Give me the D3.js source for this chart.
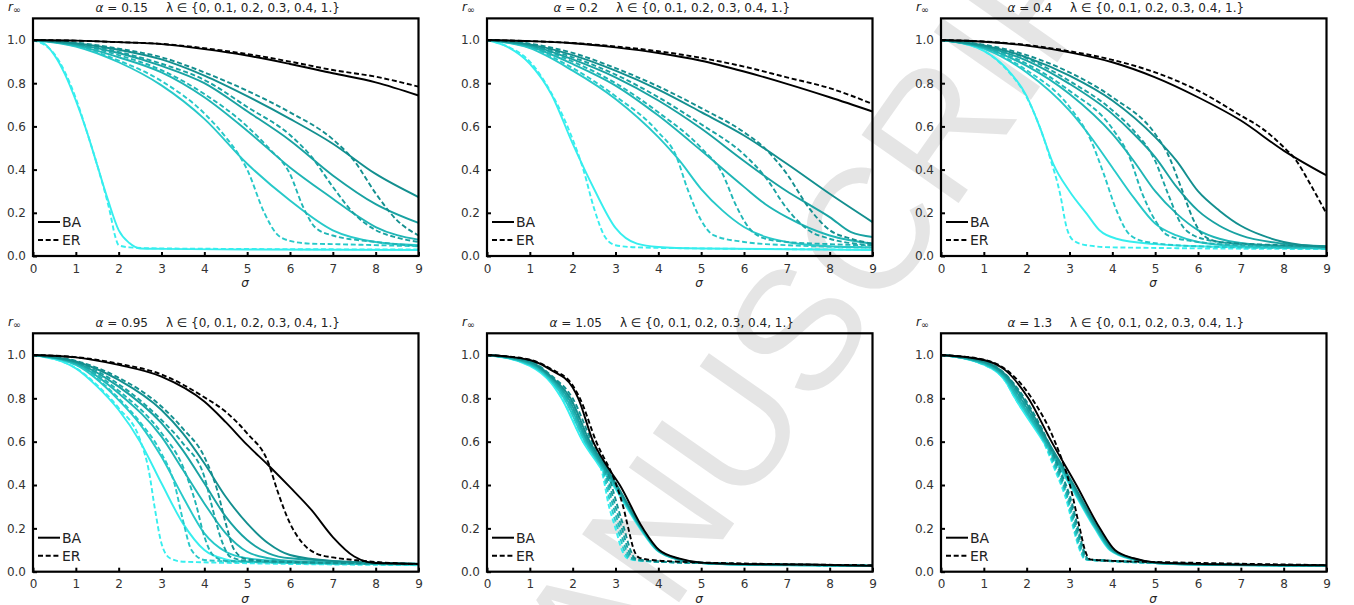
<!DOCTYPE html>
<html>
<head>
<meta charset="utf-8">
<title>r_inf vs sigma</title>
<style>
	body { margin: 0; background: #fff; }
	text { font-family: "DejaVu Sans", sans-serif; }
</style>
</head>
<body>
<svg id="chart"></svg>
<script src="https://cdn.jsdelivr.net/npm/d3@7"></script>
<script>
// lambda values and their colours (black -> cyan)
var lambdas = [0, 0.1, 0.2, 0.3, 0.4, 1];
var lambdaColors = ["#000000", "#138f8f", "#19a2a2", "#1fb5b5", "#27c9c9", "#36eeee"];
var sigmaTicks = [0, 1, 2, 3, 4, 5, 6, 7, 8, 9];
var rTicks = [0, 0.2, 0.4, 0.6, 0.8, 1.0];
var alphas = ["0.15", "0.2", "0.4", "0.95", "1.05", "1.3"];

// each curve: [sigma, r_inf] points, one curve per lambda (same order as lambdas)
var ba015 = [
	[[0,1],[1,0.997],[2,0.99],[3,0.981],[4,0.958],[5,0.928],[6,0.889],[7,0.846],[8,0.804],[9,0.743]],
	[[0,1],[1,0.985],[2,0.955],[3,0.91],[4,0.835],[5,0.74],[6,0.635],[7,0.52],[8,0.38],[9,0.273]],
	[[0,1],[1,0.98],[2,0.94],[3,0.88],[4,0.8],[5,0.67],[6,0.535],[7,0.373],[8,0.24],[9,0.153]],
	[[0,1],[1,0.975],[2,0.92],[3,0.85],[4,0.735],[5,0.58],[6,0.41],[7,0.265],[7.5,0.195],[8,0.134],[9,0.075]],
	[[0,1],[1,0.97],[2,0.897],[3,0.79],[4,0.635],[5,0.427],[6,0.257],[7,0.119],[8,0.065],[9,0.05]],
	[[0,1],[0.25,0.985],[0.5,0.93],[0.75,0.84],[1,0.72],[1.25,0.58],[1.5,0.42],[1.75,0.26],[2,0.12],[2.25,0.06],[2.5,0.035],[3,0.033],[5,0.03],[9,0.028]]
];
var er015 = [
	[[0,1],[1,0.997],[2,0.99],[3,0.982],[4,0.962],[5,0.935],[6,0.9],[7,0.861],[8,0.83],[9,0.784]],
	[[0,1],[1,0.988],[2,0.96],[3,0.92],[4,0.85],[5,0.765],[6,0.665],[7,0.54],[7.5,0.44],[8,0.29],[8.5,0.165],[9,0.095]],
	[[0,1],[1,0.983],[2,0.945],[3,0.89],[4,0.815],[5,0.69],[6,0.56],[6.5,0.46],[7,0.32],[7.5,0.195],[8,0.12],[8.5,0.085],[9,0.065]],
	[[0,1],[1,0.978],[2,0.93],[3,0.86],[4,0.75],[5,0.6],[5.5,0.5],[6,0.38],[6.3,0.23],[6.6,0.13],[7,0.095],[8,0.065],[9,0.046]],
	[[0,1],[1,0.972],[2,0.905],[3,0.81],[4,0.66],[4.5,0.55],[4.8,0.47],[5,0.4],[5.4,0.2],[5.7,0.1],[6,0.07],[6.5,0.057],[7,0.055],[9,0.045]],
	[[0,1],[0.5,0.935],[1,0.73],[1.25,0.58],[1.5,0.42],[1.8,0.2],[1.92,0.09],[2,0.05],[2.25,0.04],[3,0.035],[9,0.03]]
];

var ba02 = [
	[[0,1],[1,0.995],[2,0.985],[3,0.966],[4,0.94],[5,0.904],[6,0.854],[7,0.797],[8,0.735],[9,0.669]],
	[[0,1],[1,0.98],[2,0.93],[3,0.858],[4,0.77],[5,0.666],[6,0.558],[7,0.427],[8,0.288],[9,0.157]],
	[[0,1],[1,0.975],[2,0.91],[3,0.827],[4,0.72],[5,0.59],[6,0.44],[7,0.3],[7.5,0.24],[8,0.18],[8.5,0.11],[9,0.088]],
	[[0,1],[1,0.97],[2,0.889],[3,0.789],[4,0.65],[5,0.488],[6,0.32],[6.5,0.24],[7,0.18],[8,0.095],[9,0.057]],
	[[0,1],[1,0.962],[2,0.858],[3,0.727],[4,0.55],[4.5,0.44],[5,0.31],[5.5,0.21],[6,0.134],[7,0.065],[8,0.045],[9,0.039]],
	[[0,1],[0.5,0.966],[1,0.89],[1.5,0.75],[2,0.52],[2.5,0.31],[3,0.13],[3.5,0.057],[4,0.042],[5,0.035],[9,0.028]]
];
var er02 = [
	[[0,1],[1,0.995],[2,0.986],[3,0.97],[4,0.948],[5,0.917],[6,0.877],[7,0.827],[8,0.777],[9,0.704]],
	[[0,1],[1,0.983],[2,0.94],[3,0.87],[4,0.785],[5,0.685],[6,0.573],[6.5,0.496],[7,0.38],[7.5,0.227],[8,0.12],[8.5,0.08],[9,0.057]],
	[[0,1],[1,0.978],[2,0.92],[3,0.84],[4,0.735],[5,0.61],[6,0.47],[6.5,0.365],[7,0.22],[7.5,0.12],[8,0.08],[9,0.05]],
	[[0,1],[1,0.972],[2,0.9],[3,0.8],[4,0.665],[5,0.5],[5.5,0.38],[5.8,0.24],[6.1,0.134],[6.5,0.08],[7,0.065],[8,0.055],[9,0.048]],
	[[0,1],[1,0.965],[2,0.87],[3,0.74],[4,0.573],[4.4,0.47],[4.7,0.3],[5,0.165],[5.3,0.095],[6,0.065],[7,0.05],[9,0.04]],
	[[0,1],[0.5,0.968],[1,0.9],[1.5,0.755],[2,0.54],[2.25,0.4],[2.5,0.22],[2.75,0.09],[3,0.05],[3.5,0.04],[5,0.035],[9,0.03]]
];

var ba04 = [
	[[0,1],[1,0.992],[2,0.974],[3,0.943],[4,0.897],[5,0.827],[6,0.735],[7,0.627],[8,0.488],[9,0.373]],
	[[0,1],[1,0.975],[2,0.92],[3,0.835],[4,0.72],[5,0.55],[5.5,0.44],[6,0.3],[6.5,0.21],[7,0.14],[7.5,0.095],[8,0.065],[9,0.042]],
	[[0,1],[1,0.97],[2,0.905],[3,0.797],[4,0.658],[4.5,0.565],[5,0.458],[5.5,0.32],[6,0.21],[6.5,0.14],[7,0.095],[8,0.057],[9,0.045]],
	[[0,1],[1,0.965],[2,0.88],[3,0.75],[4,0.565],[4.5,0.44],[5,0.3],[5.5,0.196],[6,0.12],[6.5,0.08],[7,0.06],[8,0.045],[9,0.04]],
	[[0,1],[1,0.96],[2,0.85],[3,0.673],[3.5,0.55],[4,0.41],[4.5,0.27],[5,0.15],[5.5,0.095],[6,0.065],[7,0.045],[9,0.035]],
	[[0,1],[0.5,0.985],[1,0.95],[1.5,0.874],[2,0.74],[2.3,0.6],[2.62,0.427],[3,0.3],[3.4,0.196],[3.7,0.119],[4.1,0.08],[5,0.055],[6,0.045],[9,0.035]]
];
var er04 = [
	[[0,1],[1,0.993],[2,0.977],[3,0.948],[4,0.908],[5,0.85],[6,0.766],[7,0.65],[7.5,0.59],[8,0.504],[8.3,0.44],[8.6,0.34],[9,0.196]],
	[[0,1],[1,0.978],[2,0.93],[3,0.85],[4,0.735],[5,0.565],[5.3,0.47],[5.6,0.32],[5.9,0.165],[6.1,0.1],[6.5,0.065],[8,0.05],[9,0.045]],
	[[0,1],[1,0.973],[2,0.915],[3,0.81],[4,0.675],[4.5,0.58],[5,0.44],[5.3,0.288],[5.6,0.15],[5.9,0.095],[6.5,0.065],[7,0.055],[9,0.045]],
	[[0,1],[1,0.968],[2,0.89],[3,0.765],[4,0.59],[4.4,0.458],[4.7,0.288],[5,0.165],[5.3,0.095],[6,0.065],[7,0.05],[9,0.04]],
	[[0,1],[1,0.962],[2,0.86],[3,0.69],[3.5,0.535],[3.8,0.38],[4.1,0.21],[4.4,0.1],[4.8,0.065],[6,0.045],[9,0.035]],
	[[0,1],[0.5,0.985],[1,0.95],[1.5,0.87],[2,0.735],[2.3,0.6],[2.54,0.458],[2.78,0.288],[2.93,0.134],[3.09,0.072],[3.4,0.05],[4,0.04],[9,0.032]]
];

var ba095 = [
	[[0,1],[1,0.989],[2,0.954],[3,0.9],[4,0.785],[4.5,0.69],[5,0.585],[5.5,0.49],[6,0.39],[6.5,0.285],[7,0.16],[7.5,0.07],[7.8,0.045],[8,0.04],[9,0.036]],
	[[0,1],[1,0.97],[2,0.885],[3,0.746],[3.5,0.638],[4,0.5],[4.5,0.346],[5,0.223],[5.5,0.13],[6,0.077],[7,0.05],[9,0.037]],
	[[0,1],[1,0.965],[2,0.854],[3,0.685],[3.5,0.56],[4,0.408],[4.5,0.254],[5,0.146],[5.5,0.085],[6,0.062],[9,0.035]],
	[[0,1],[1,0.96],[2,0.823],[3,0.623],[3.5,0.47],[4,0.315],[4.5,0.177],[5,0.092],[5.5,0.062],[6,0.05],[9,0.035]],
	[[0,1],[1,0.954],[2,0.792],[2.5,0.68],[3,0.53],[3.5,0.346],[4,0.177],[4.5,0.092],[5,0.062],[6,0.045],[9,0.033]],
	[[0,1],[1,0.938],[1.5,0.854],[2,0.746],[2.5,0.6],[3,0.408],[3.5,0.223],[4,0.1],[4.5,0.057],[5,0.045],[9,0.032]]
];
var er095 = [
	[[0,1],[1,0.99],[2,0.96],[3,0.91],[4,0.805],[4.5,0.738],[5,0.638],[5.5,0.5],[5.7,0.377],[6,0.223],[6.3,0.13],[6.6,0.085],[7,0.066],[7.5,0.054],[8,0.045],[9,0.035]],
	[[0,1],[1,0.973],[2,0.895],[3,0.762],[3.5,0.66],[4,0.53],[4.3,0.377],[4.5,0.223],[4.7,0.1],[5,0.057],[6,0.045],[9,0.037]],
	[[0,1],[1,0.968],[2,0.865],[3,0.7],[3.5,0.592],[4,0.438],[4.2,0.285],[4.4,0.146],[4.6,0.07],[5,0.05],[9,0.035]],
	[[0,1],[1,0.962],[2,0.835],[3,0.64],[3.5,0.485],[3.8,0.315],[4,0.162],[4.2,0.077],[4.5,0.05],[9,0.035]],
	[[0,1],[1,0.956],[2,0.8],[2.5,0.69],[3,0.546],[3.3,0.408],[3.5,0.238],[3.7,0.1],[4,0.054],[5,0.045],[9,0.033]],
	[[0,1],[1,0.94],[1.5,0.86],[2,0.755],[2.5,0.608],[2.7,0.47],[2.85,0.285],[3,0.13],[3.2,0.062],[3.5,0.046],[9,0.03]]
];

var ba105 = [
	[[0,1],[1,0.977],[1.5,0.93],[2,0.85],[2.13,0.8],[2.48,0.6],[2.76,0.5],[3.1,0.4],[3.64,0.2],[4.02,0.1],[4.5,0.06],[5,0.042],[6,0.035],[7.5,0.033],[9,0.027]],
	[[0,1],[1,0.97],[1.5,0.9],[1.95,0.8],[2.4,0.6],[2.72,0.5],[3.03,0.4],[3.62,0.2],[4,0.1],[4.5,0.058],[5,0.042],[6,0.035],[7.5,0.032],[9,0.027]],
	[[0,1],[1,0.965],[1.5,0.895],[1.9,0.8],[2.36,0.6],[2.68,0.5],[3.01,0.4],[3.61,0.2],[3.99,0.1],[4.5,0.057],[5,0.041],[6,0.034],[7.5,0.031],[9,0.027]],
	[[0,1],[1,0.96],[1.5,0.89],[1.85,0.8],[2.33,0.6],[2.65,0.5],[2.99,0.4],[3.6,0.2],[3.98,0.1],[4.5,0.056],[5,0.04],[6,0.033],[7.5,0.03],[9,0.027]],
	[[0,1],[1,0.955],[1.5,0.88],[1.8,0.8],[2.29,0.6],[2.62,0.5],[2.97,0.4],[3.59,0.2],[3.97,0.1],[4.5,0.055],[5,0.04],[6,0.033],[7.5,0.03],[9,0.027]],
	[[0,1],[1,0.95],[1.5,0.87],[1.74,0.8],[2.24,0.6],[2.58,0.5],[2.94,0.4],[3.57,0.2],[3.96,0.1],[4.5,0.054],[5,0.04],[6,0.032],[7.5,0.029],[9,0.027]]
];
var er105 = [
	[[0,1],[1,0.978],[1.5,0.935],[2,0.86],[2.17,0.8],[2.55,0.6],[3.02,0.4],[3.18,0.3],[3.3,0.2],[3.43,0.1],[3.55,0.065],[3.8,0.055],[4.5,0.046],[6,0.038],[9,0.03]],
	[[0,1],[1,0.972],[1.5,0.905],[2,0.8],[2.45,0.6],[2.8,0.47],[3.05,0.3],[3.2,0.2],[3.35,0.1],[3.45,0.062],[3.8,0.05],[5,0.04],[9,0.028]],
	[[0,1],[1,0.967],[1.5,0.898],[1.94,0.8],[2.4,0.6],[2.76,0.47],[3,0.3],[3.15,0.2],[3.3,0.1],[3.4,0.062],[3.75,0.05],[5,0.04],[9,0.028]],
	[[0,1],[1,0.962],[1.5,0.89],[1.88,0.8],[2.35,0.6],[2.73,0.47],[2.95,0.3],[3.1,0.2],[3.25,0.1],[3.36,0.062],[3.7,0.05],[5,0.04],[9,0.028]],
	[[0,1],[1,0.957],[1.5,0.883],[1.82,0.8],[2.3,0.6],[2.7,0.47],[2.9,0.3],[3.05,0.2],[3.2,0.1],[3.32,0.062],[3.65,0.05],[5,0.04],[9,0.028]],
	[[0,1],[1,0.952],[1.5,0.875],[1.75,0.8],[2.25,0.6],[2.67,0.47],[2.85,0.3],[3,0.2],[3.15,0.1],[3.28,0.062],[3.6,0.05],[5,0.04],[9,0.028]]
];

var ba13 = [
	[[0,1],[1,0.977],[1.5,0.93],[2.04,0.8],[2.58,0.6],[3.16,0.4],[3.71,0.2],[4.06,0.1],[4.5,0.062],[5,0.043],[6,0.036],[9,0.03]],
	[[0,1],[1,0.97],[1.5,0.91],[1.92,0.8],[2.5,0.6],[3.1,0.4],[3.67,0.2],[4.02,0.1],[4.5,0.06],[5,0.042],[6,0.035],[9,0.029]],
	[[0,1],[1,0.966],[1.5,0.902],[1.86,0.8],[2.47,0.6],[3.07,0.4],[3.65,0.2],[4,0.1],[4.5,0.059],[5,0.041],[6,0.034],[9,0.028]],
	[[0,1],[1,0.962],[1.5,0.895],[1.81,0.8],[2.44,0.6],[3.05,0.4],[3.63,0.2],[3.98,0.1],[4.5,0.058],[5,0.04],[6,0.033],[9,0.028]],
	[[0,1],[1,0.958],[1.5,0.888],[1.77,0.8],[2.42,0.6],[3.03,0.4],[3.61,0.2],[3.96,0.1],[4.5,0.057],[5,0.04],[6,0.033],[9,0.027]],
	[[0,1],[1,0.955],[1.5,0.88],[1.73,0.8],[2.39,0.6],[3.01,0.4],[3.59,0.2],[3.94,0.1],[4.5,0.055],[5,0.04],[6,0.032],[9,0.027]]
];
var er13 = [
	[[0,1],[1,0.978],[1.5,0.935],[2.12,0.8],[2.66,0.6],[3.01,0.4],[3.24,0.2],[3.36,0.1],[3.48,0.057],[4,0.05],[5,0.045],[9,0.03]],
	[[0,1],[1,0.972],[1.5,0.912],[1.95,0.8],[2.5,0.6],[2.78,0.47],[3.08,0.3],[3.2,0.2],[3.33,0.1],[3.45,0.057],[4,0.05],[5,0.042],[9,0.028]],
	[[0,1],[1,0.967],[1.5,0.905],[1.88,0.8],[2.47,0.6],[2.75,0.47],[3.05,0.3],[3.17,0.2],[3.31,0.1],[3.42,0.057],[4,0.05],[5,0.042],[9,0.028]],
	[[0,1],[1,0.962],[1.5,0.895],[1.82,0.8],[2.44,0.6],[2.72,0.47],[3.02,0.3],[3.14,0.2],[3.28,0.1],[3.4,0.057],[4,0.05],[5,0.041],[9,0.028]],
	[[0,1],[1,0.958],[1.5,0.888],[1.77,0.8],[2.41,0.6],[2.69,0.47],[3,0.3],[3.11,0.2],[3.26,0.1],[3.38,0.057],[3.9,0.05],[5,0.04],[9,0.027]],
	[[0,1],[1,0.955],[1.5,0.88],[1.73,0.8],[2.39,0.6],[2.66,0.47],[2.97,0.3],[3.09,0.2],[3.24,0.1],[3.36,0.057],[3.8,0.05],[5,0.04],[9,0.027]]
];

var baSets = [ba015, ba02, ba04, ba095, ba105, ba13];
var erSets = [er015, er02, er04, er095, er105, er13];

var W = 1354, H = 605;
var svg = d3.select("#chart").attr("width", W).attr("height", H);

// watermark behind everything (it runs off the page in the original too)
svg.append("text")
	.attr("transform", "translate(800,325) rotate(-55)")
	.attr("text-anchor", "middle")
	.attr("dominant-baseline", "central")
	.style("font-family", "'Liberation Sans', Arial, sans-serif")
	.style("font-size", "172px")
	.attr("fill", "#e5e5e5")
	.text("MANUSCRIPT");

var frameW = 385.5;
var lefts = [33, 487, 941];
var rows = [{ bottom: 256, top: 18.4 }, { bottom: 571.7, top: 333.3 }];

var line = d3.line().curve(d3.curveMonotoneX);

alphas.forEach(function(alpha, i) {
	var col = i % 3, row = Math.floor(i / 3);
	var x0 = lefts[col], r = rows[row];

	var x = d3.scaleLinear().domain([0, 9]).range([x0, x0 + frameW]);
	var y = d3.scaleLinear().domain([0, 1.1]).range([r.bottom, r.top]);

	var g = svg.append("g");

	line.x(function(d) { return x(d[0]); }).y(function(d) { return y(d[1]); });

	// curves, lambda = 1 first so black ends up on top
	for (var k = lambdas.length - 1; k >= 0; k--) {
		g.append("path")
			.attr("d", line(baSets[i][k]))
			.attr("fill", "none")
			.attr("stroke", lambdaColors[k])
			.attr("stroke-width", 1.9);
		g.append("path")
			.attr("d", line(erSets[i][k]))
			.attr("fill", "none")
			.attr("stroke", lambdaColors[k])
			.attr("stroke-width", 1.9)
			.attr("stroke-dasharray", "5,2.7");
	}

	// axes with inward ticks
	var xAxis = d3.axisBottom(x).tickValues(sigmaTicks).tickSize(-4).tickPadding(8)
		.tickFormat(d3.format("d"));
	var yAxis = d3.axisLeft(y).tickValues(rTicks).tickSize(-4).tickPadding(7)
		.tickFormat(d3.format(".1f"));

	var gx = g.append("g").attr("transform", "translate(0," + r.bottom + ")").call(xAxis);
	var gy = g.append("g").attr("transform", "translate(" + x0 + ",0)").call(yAxis);
	[gx, gy].forEach(function(a) {
		a.select(".domain").remove();
		a.selectAll(".tick line").attr("stroke", "#000").attr("stroke-width", 2);
		a.selectAll(".tick text").attr("fill", "#333").style("font-size", "12px")
			.style("font-family", "'DejaVu Sans', sans-serif");
	});

	// frame
	g.append("rect")
		.attr("x", x0).attr("y", r.top)
		.attr("width", frameW).attr("height", r.bottom - r.top)
		.attr("fill", "none").attr("stroke", "#000").attr("stroke-width", 2.2);

	// title
	var title = g.append("text")
		.attr("x", x0 + frameW / 2 - 8).attr("y", r.top - 6)
		.attr("text-anchor", "middle")
		.attr("fill", "#222")
		.style("font-size", "12px");
	title.append("tspan").style("font-style", "italic").text("α");
	title.append("tspan").text(" = " + alpha + "\u2003\u2002λ ∈ {0, 0.1, 0.2, 0.3, 0.4, 1.}");

	// y label r_inf
	var yl = g.append("text")
		.attr("x", x0 - 25).attr("y", r.top - 7)
		.attr("fill", "#222")
		.style("font-size", "12px");
	yl.append("tspan").style("font-style", "italic").text("r");
	yl.append("tspan").attr("dy", 2).style("font-size", "9.5px").text("∞");

	// x label sigma
	g.append("text")
		.attr("x", x(4.95)).attr("y", r.bottom + 31)
		.attr("text-anchor", "middle")
		.attr("fill", "#222")
		.style("font-size", "12px")
		.style("font-style", "italic")
		.text("σ");

	// legend
	var leg = [{ name: "BA", dash: null, dy: -34 }, { name: "ER", dash: "5,2.7", dy: -16 }];
	leg.forEach(function(l) {
		var ly = r.bottom + l.dy;
		g.append("line")
			.attr("x1", x0 + 5).attr("x2", x0 + 27)
			.attr("y1", ly).attr("y2", ly)
			.attr("stroke", "#000").attr("stroke-width", 2)
			.attr("stroke-dasharray", l.dash);
		g.append("text")
			.attr("x", x0 + 29).attr("y", ly)
			.attr("dominant-baseline", "central")
			.attr("fill", "#222")
			.style("font-size", "14px")
			.text(l.name);
	});
});
</script>
</body>
</html>
